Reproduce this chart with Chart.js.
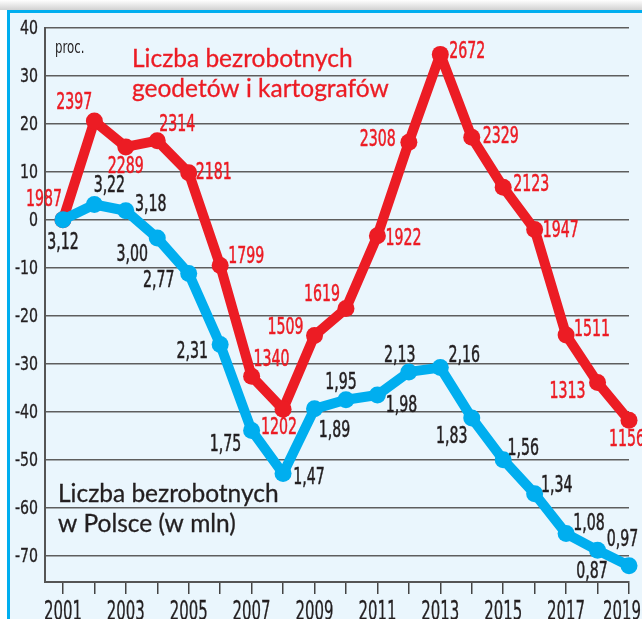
<!DOCTYPE html>
<html>
<head>
<meta charset="utf-8">
<script src="https://cdn.jsdelivr.net/npm/chart.js@4.4.1/dist/chart.umd.min.js"></script>
<style>
  html, body { margin: 0; padding: 0; background: #fff; }
  #wrap { width: 642px; height: 619px; position: relative; }
</style>
</head>
<body>
<div id="wrap"><canvas id="chart" width="642" height="619"></canvas></div>
<script>
// x axis: years
const years = [2001, 2002, 2003, 2004, 2005, 2006, 2007, 2008, 2009, 2010,
               2011, 2012, 2013, 2014, 2015, 2016, 2017, 2018, 2019];
// y axis tick values (proc.)
const yTicks = [-70, -60, -50, -40, -30, -20, -10, 0, 10, 20, 30, 40];

// unemployed surveyors and cartographers, % change vs 2001
const geodeciPct = [0, 20.6, 15.2, 16.5, 9.8, -9.5, -32.6, -39.5, -24.1, -18.5,
                    -3.3, 16.2, 34.5, 17.2, 6.8, -2.0, -24.0, -33.9, -41.8];
const geodeciCount = ['1987', '2397', '2289', '2314', '2181', '1799', '1340', '1202', '1509', '1619',
                      '1922', '2308', '2672', '2329', '2123', '1947', '1511', '1313', '1156'];

// unemployed in Poland, % change vs 2001
const polskaPct = [0, 3.2, 1.9, -3.8, -11.2, -26.0, -43.9, -52.9, -39.4, -37.5,
                   -36.5, -31.7, -30.8, -41.3, -50.0, -57.1, -65.4, -68.9, -72.1];
const polskaMln = ['3,12', '3,22', '3,18', '3,00', '2,77', '2,31', '1,75', '1,47', '1,89', '1,95',
                   '1,98', '2,13', '2,16', '1,83', '1,56', '1,34', '1,08', '0,97', '0,87'];

// where each value label sits relative to its point (px)
const geodeciOffsets = [[-19, -20], [-20, -18], [0, 20], [20, -16], [25, 0], [26, -8], [20, -16], [-4, 19], [-29, -7], [-24, -14],
                        [26, 3], [-31, -2], [27, -2], [29, 0], [28, -2], [26, 2], [26, -5], [-30, 10], [-2, 20]];
const polskaOffsets = [[0, 23], [15, -18], [25, -6], [-25, 17], [-30, 7], [-28, 7], [-26, 15], [26, 4], [20, 22], [-5, -17],
                       [24, 11], [-9, -16], [24, -12], [-20, 19], [20, -11], [22, -8], [23, -10], [25, -10], [-37, 6]];

const RED = '#ec1c24';
const BLUE = '#00aeef';
const DARK = '#231f20';
const NARROW = '"Liberation Sans Narrow", "DejaVu Sans Condensed", "DejaVu Sans", sans-serif';
const TITLE_FONT = 'Lato, "Noto Sans", sans-serif';

// condensed text: scale glyphs so a digit is digitW px wide
function drawNarrow(c, text, x, y, color, size, digitW, align, baseline, stroke) {
  c.save();
  c.font = size + 'px ' + NARROW;
  c.fillStyle = color;
  c.strokeStyle = color;
  c.textAlign = align || 'center';
  c.textBaseline = baseline || 'middle';
  const sx = digitW / c.measureText('0').width;
  c.translate(x, y);
  c.scale(sx, 1);
  c.fillText(text, 0, 0);
  if (stroke) {
    c.lineWidth = stroke;
    c.strokeText(text, 0, 0);
  }
  c.restore();
}

function narrowWidth(c, text, size, digitW) {
  c.save();
  c.font = size + 'px ' + NARROW;
  const w = c.measureText(text).width * digitW / c.measureText('0').width;
  c.restore();
  return w;
}

// light blue panel with cyan frame
const framePlugin = {
  id: 'frame',
  beforeDraw(chart) {
    const c = chart.ctx;
    c.save();
    const g = c.createLinearGradient(0, 0, 0, 10);
    g.addColorStop(0, '#ffffff');
    g.addColorStop(1, '#d2d2d2');
    c.fillStyle = g;
    c.fillRect(0, 0, 642, 10);
    c.fillStyle = '#eaf6fd';
    c.fillRect(8, 11, 634, 608);
    c.fillStyle = BLUE;
    c.fillRect(7, 10, 635, 3);
    c.fillRect(7, 10, 3, 609);
    c.restore();
  }
};

// value labels next to every point
const labelPlugin = {
  id: 'pointLabels',
  afterDatasetsDraw(chart) {
    const c = chart.ctx;
    chart.data.datasets.forEach((ds, di) => {
      const meta = chart.getDatasetMeta(di);
      meta.data.forEach((pt, i) => {
        const off = ds.labelOffsets[i];
        drawNarrow(c, ds.pointLabels[i], pt.x + off[0], pt.y + off[1], ds.labelColor, 23, 9, 'center', 'middle', 0.5);
      });
    });
  }
};

// titles, unit and axis labels
const textPlugin = {
  id: 'texts',
  afterDraw(chart) {
    const c = chart.ctx;
    drawNarrow(c, 'proc.', 55, 53, DARK, 17, 7.5, 'left', 'alphabetic');

    c.save();
    c.font = '24.5px ' + TITLE_FONT;
    c.textAlign = 'left';
    c.textBaseline = 'alphabetic';
    c.lineWidth = 0.3;
    c.fillStyle = RED;
    c.strokeStyle = RED;
    [['Liczba bezrobotnych', 132, 67], ['geodetów i kartografów', 132, 97]].forEach(t => {
      c.fillText(t[0], t[1], t[2]);
      c.strokeText(t[0], t[1], t[2]);
    });
    c.fillStyle = DARK;
    c.strokeStyle = DARK;
    [['Liczba bezrobotnych', 58, 502], ['w Polsce (w mln)', 58, 532]].forEach(t => {
      c.fillText(t[0], t[1], t[2]);
      c.strokeText(t[0], t[1], t[2]);
    });
    c.restore();

    const ys = chart.scales.y;
    ys.ticks.forEach(t => {
      drawNarrow(c, String(t.value), 38, ys.getPixelForValue(t.value) + 1, DARK, 19, 9, 'right', 'middle', 0.3);
    });

    const xs = chart.scales.x;
    xs.ticks.forEach(t => {
      if (t.value % 2 === 1) {
        const label = String(t.value);
        const half = narrowWidth(c, label, 27, 9.5) / 2;
        const px = Math.min(xs.getPixelForValue(t.value), 641 - half);
        drawNarrow(c, label, px, 620, DARK, 27, 9.5, 'center', 'alphabetic', 0.3);
      }
    });
  }
};

const ctx = document.getElementById('chart').getContext('2d');

new Chart(ctx, {
  type: 'line',
  data: {
    datasets: [
      {
        label: 'Liczba bezrobotnych w Polsce (w mln)',
        data: years.map((y, i) => ({ x: y, y: polskaPct[i] })),
        pointLabels: polskaMln,
        labelOffsets: polskaOffsets,
        labelColor: DARK,
        borderColor: BLUE,
        backgroundColor: BLUE,
        borderWidth: 10,
        borderJoinStyle: 'round',
        borderCapStyle: 'round',
        pointRadius: 8.5,
        pointBorderWidth: 0,
        pointBackgroundColor: BLUE,
        tension: 0,
        clip: false
      },
      {
        label: 'Liczba bezrobotnych geodetów i kartografów',
        data: years.map((y, i) => ({ x: y, y: geodeciPct[i] })),
        pointLabels: geodeciCount,
        labelOffsets: geodeciOffsets,
        labelColor: RED,
        borderColor: RED,
        backgroundColor: RED,
        borderWidth: 10,
        borderJoinStyle: 'round',
        borderCapStyle: 'round',
        pointRadius: 8.5,
        pointBorderWidth: 0,
        pointBackgroundColor: RED,
        tension: 0,
        clip: false
      }
    ]
  },
  options: {
    responsive: false,
    animation: false,
    layout: { padding: { left: 0, top: 28, right: 13, bottom: 0 } },
    plugins: {
      legend: { display: false },
      tooltip: { enabled: false }
    },
    scales: {
      x: {
        type: 'linear',
        min: 2000.43,
        max: 2019,
        afterBuildTicks: s => { s.ticks = years.map(v => ({ value: v })); },
        afterFit: s => { s.height = 37; s.paddingLeft = 0; s.paddingRight = 0; },
        ticks: { display: false },
        grid: { drawOnChartArea: false, drawTicks: true, tickLength: 12, color: '#444', lineWidth: 1.5 },
        border: { display: true, color: '#555', width: 2 }
      },
      y: {
        min: -75.5,
        max: 40,
        afterBuildTicks: s => { s.ticks = yTicks.map(v => ({ value: v })); },
        afterFit: s => { s.width = 45; s.paddingTop = 0; s.paddingBottom = 0; },
        ticks: { display: false },
        grid: { color: '#5e5e5e', lineWidth: 1.5, drawTicks: false },
        border: { display: true, color: '#555', width: 2 }
      }
    }
  },
  plugins: [framePlugin, labelPlugin, textPlugin]
});
</script>
</body>
</html>
